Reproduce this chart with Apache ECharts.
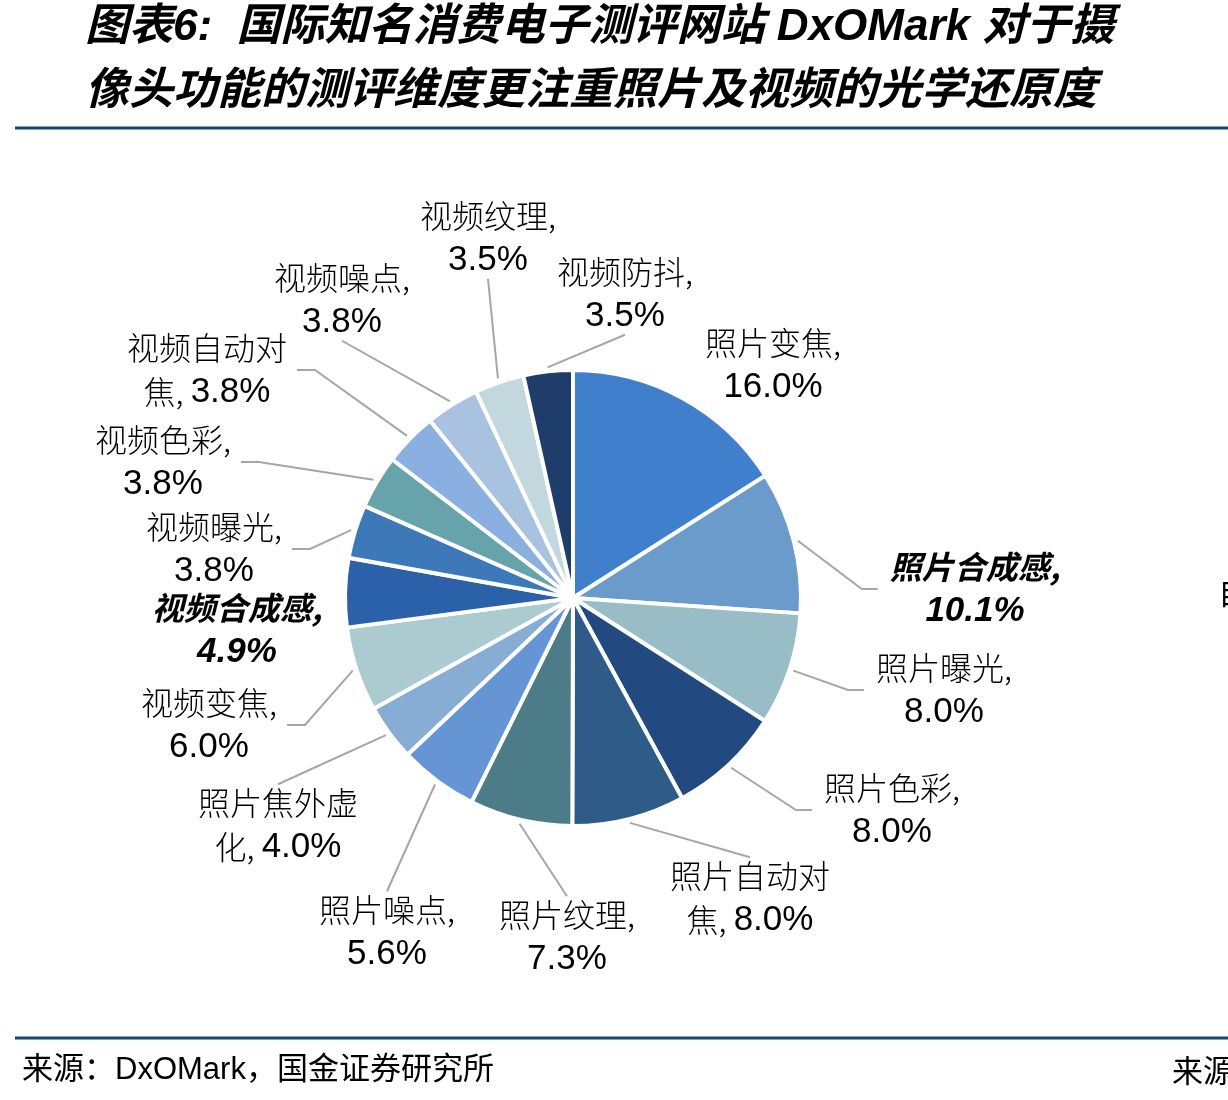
<!DOCTYPE html>
<html><head><meta charset="utf-8">
<script src="https://cdn.jsdelivr.net/npm/echarts@6/dist/echarts.min.js"></script>
<style>html,body{margin:0;padding:0;background:#fff}#c{width:1228px;height:1100px}</style>
</head><body><div id="c"></div>
<script>
// ---- data ----
const categories = ['照片变焦','照片合成感','照片曝光','照片色彩','照片自动对焦','照片纹理','照片噪点','照片焦外虚化',
  '视频变焦','视频合成感','视频曝光','视频色彩','视频自动对焦','视频噪点','视频纹理','视频防抖'];
const values = [16.0, 10.1, 8.0, 8.0, 8.0, 7.3, 5.6, 4.0, 6.0, 4.9, 3.8, 3.8, 3.8, 3.8, 3.5, 3.5];
const emphasized = ['照片合成感','视频合成感'];

// ---- style / layout ----
const colors = ['#3F7FCC','#6B9BCB','#98BDC6','#224A80','#2F5B88','#4B7C87','#6595D5','#87ADD4',
  '#ABCBD0','#2B61A9','#3D78B8','#67A3AB','#8AAFE0','#A8C2E0','#C2D8DE','#1F3D6B'];
// label centre offset from pie centre, leader-line side, wrap position of name
const labelCfg = [
  [200,-233,'none',0],
  [402,-9,'left',0],
  [371,92,'left',0],
  [319,212,'left',0],
  [177,300,'top',5],
  [-6,339,'top',0],
  [-186,334,'top',0],
  [-295,227,'top',5],
  [-364,127,'right',0],
  [-336,32,'none',0],
  [-359,-49,'right',0],
  [-410,-136,'right',0],
  [-366,-228,'right',5],
  [-231,-298,'bottom',0],
  [-85,-360,'bottom',0],
  [52,-304,'bottom',0]
];
const CX = 573, CY = 598, R = 228;
const total = values.reduce((a,b)=>a+b,0);
const cum = []; let acc = 0; values.forEach(v=>{cum.push(acc); acc += v;});

function labelText(i){
  const name = categories[i], val = values[i].toFixed(1) + '%';
  const em = emphasized.includes(name);
  const n = em ? 'ni' : 'n', v = em ? 'vi' : 'v';
  const w = labelCfg[i][3];
  if (w) return '{' + n + '|' + name.slice(0,w) + '}\n{' + n + '|' + name.slice(w) + ', }{' + v + '|' + val + '}';
  return '{' + n + '|' + name + ',}\n{' + v + '|' + val + '}';
}

const CJK = '"Noto Sans CJK SC"';
const LAT = '"Liberation Sans", Arial, "Noto Sans CJK SC"';
const chart = echarts.init(document.getElementById('c'));
chart.setOption({
  animation: false,
  backgroundColor: '#fff',
  graphic: [
    {type:'text', x:85, y:28, style:{text:'图表6:  国际知名消费电子测评网站 DxOMark 对于摄', fill:'#000',
      font:'italic bold 44px "Liberation Sans", "Noto Sans CJK SC"', textVerticalAlign:'middle', verticalAlign:'middle'}},
    {type:'text', x:85, y:92, style:{text:'像头功能的测评维度更注重照片及视频的光学还原度', fill:'#000',
      font:'italic bold 44px "Liberation Sans", "Noto Sans CJK SC"', textVerticalAlign:'middle', verticalAlign:'middle'}},
    {type:'line', shape:{x1:15,y1:128,x2:1228,y2:128}, style:{stroke:'#114B70', lineWidth:3}},
    {type:'line', shape:{x1:15,y1:1038,x2:1228,y2:1038}, style:{stroke:'#114B70', lineWidth:3}},
    {type:'text', x:22, y:1070, style:{text:'来源：DxOMark，国金证券研究所', fill:'#000',
      font:'31px "Liberation Sans", "Noto Sans CJK SC"', textVerticalAlign:'middle', verticalAlign:'middle'}},
    {type:'text', x:1172, y:1070, style:{text:'来源', fill:'#000',
      font:'31px "Noto Sans CJK SC"', textVerticalAlign:'middle', verticalAlign:'middle'}},
    {type:'text', x:1218, y:592, style:{text:'自', fill:'#000',
      font:'31px "Noto Sans CJK SC"', textVerticalAlign:'middle', verticalAlign:'middle'}}
  ],
  series: [{
    type: 'pie',
    center: [CX, CY],
    radius: R,
    startAngle: 90,
    clockwise: true,
    silent: true,
    avoidLabelOverlap: false,
    itemStyle: {borderColor:'#fff', borderWidth:4},
    label: {
      show: true, position: 'outside', color:'#000',
      formatter: p => labelText(p.dataIndex),
      rich: {
        n: {fontFamily: CJK, fontSize: 32, fontWeight: 300, lineHeight: 44, color:'#000'},
        ni: {fontFamily: CJK, fontSize: 32, lineHeight: 44, fontStyle:'italic', fontWeight:'bold', color:'#000'},
        v: {fontFamily: LAT, fontSize: 35, lineHeight: 44, color:'#000'},
        vi: {fontFamily: LAT, fontSize: 35, lineHeight: 44, fontStyle:'italic', fontWeight:'bold', color:'#000'}
      }
    },
    labelLine: {show: true, length: 10, length2: 10, lineStyle: {color:'#A6A6A6', width: 2}},
    labelLayout: function (p) {
      const i = p.dataIndex, c = labelCfg[i];
      const lx = CX + c[0], ly = CY + c[1];
      const w = p.labelRect.width, h = p.labelRect.height;
      const a = (cum[i] + values[i] / 2) / total * Math.PI * 2;
      const s = [CX + (R + 4) * Math.sin(a), CY - (R + 4) * Math.cos(a)];
      let pts;
      switch (c[2]) {
        case 'left': { const e = [lx - w / 2 - 12, ly]; pts = [s, [e[0] - 16, ly], e]; break; }
        case 'right': { const e = [lx + w / 2 + 10, ly]; pts = [s, [e[0] + 18, ly], e]; break; }
        case 'top': { const e = [lx, ly - h / 2 - 2]; pts = [s, e, e]; break; }
        case 'bottom': { const e = [lx, ly + h / 2 + 2]; pts = [s, e, e]; break; }
        default: pts = [s, s, s];
      }
      return {x: lx, y: ly, align: 'center', verticalAlign: 'middle', labelLinePoints: pts};
    },
    data: categories.map((name, i) => ({
      name: name,
      value: values[i],
      itemStyle: {color: colors[i]},
      labelLine: {show: labelCfg[i][2] !== 'none'}
    }))
  }]
});
</script>
</body></html>
